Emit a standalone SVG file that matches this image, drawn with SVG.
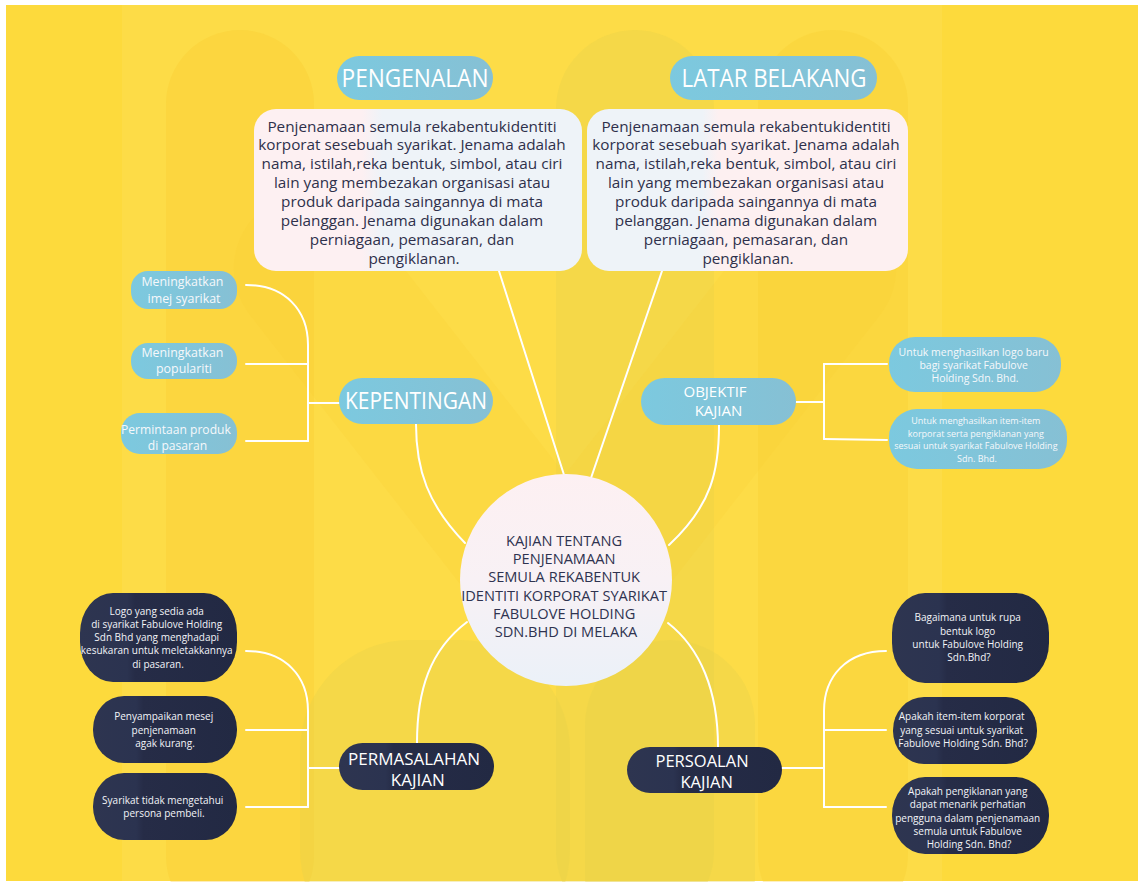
<svg xmlns="http://www.w3.org/2000/svg" width="1138" height="882" viewBox="0 0 1138 882">
  <defs>
    <style>
      .conn { fill: none; stroke: #FFFFFF; stroke-width: 2; stroke-linecap: round; }
      .title { font-family: "Open Sans", "Liberation Sans", sans-serif; fill: #FFFFFF; text-anchor: middle; }
      .body { font-family: "Open Sans", "Liberation Sans", sans-serif; fill: #2E304B; text-anchor: middle; font-size: 15.3px; }
      .core { font-family: "Open Sans", "Liberation Sans", sans-serif; fill: #2F3350; text-anchor: middle; font-size: 14.6px; }
      .leaf { font-family: "Open Sans", "Liberation Sans", sans-serif; fill: #F6F8FB; text-anchor: middle; }
      .dark { font-family: "Open Sans", "Liberation Sans", sans-serif; fill: #F3F4F8; text-anchor: middle; font-size: 10px; }
      .bluepill { fill: url(#blueGrad); }
      .navypill { fill: url(#navyGrad); }
    </style>
    <linearGradient id="blueGrad" x1="0" y1="0" x2="1" y2="0">
      <stop offset="0" stop-color="#7CC9DF"/>
      <stop offset="1" stop-color="#86C0D4"/>
    </linearGradient>
    <linearGradient id="navyGrad" x1="0" y1="0" x2="1" y2="0">
      <stop offset="0" stop-color="#2E3550"/>
      <stop offset="0.3" stop-color="#2B3350"/>
      <stop offset="0.35" stop-color="#262C47"/>
      <stop offset="1" stop-color="#222943"/>
    </linearGradient>
    <linearGradient id="boxLeft" x1="0" y1="0" x2="1" y2="0">
      <stop offset="0" stop-color="#FDF0F2"/>
      <stop offset="0.33" stop-color="#FDF0F2"/>
      <stop offset="0.39" stop-color="#EEF3F8"/>
      <stop offset="1" stop-color="#EEF3F8"/>
    </linearGradient>
    <linearGradient id="boxRight" x1="0" y1="0" x2="1" y2="0">
      <stop offset="0" stop-color="#EEF3F8"/>
      <stop offset="0.36" stop-color="#EEF3F8"/>
      <stop offset="0.41" stop-color="#FDF0F1"/>
      <stop offset="1" stop-color="#FDF0F1"/>
    </linearGradient>
    <linearGradient id="coreGrad" x1="0" y1="0" x2="0" y2="1">
      <stop offset="0" stop-color="#FDF0F2"/>
      <stop offset="0.5" stop-color="#F8F1F5"/>
      <stop offset="1" stop-color="#EBF1F8"/>
    </linearGradient>
  </defs>

  <!-- backdrop -->
  <rect x="0" y="0" width="1138" height="882" fill="#FFFFFF"/>
  <g id="backdrop">
    <rect x="6" y="5" width="1132" height="876" fill="#FDDA3C"/>
    <rect x="122" y="5" width="820" height="876" fill="#FFFFFF" opacity="0.06"/>
    <rect x="166" y="30" width="148" height="900" rx="74" fill="#F9CC30" opacity="0.35"/>
    <rect x="556" y="30" width="158" height="900" rx="79" fill="#E6D24A" opacity="0.35"/>
    <rect x="758" y="30" width="150" height="900" rx="75" fill="#F9CC30" opacity="0.3"/>
    <rect x="360" y="150" width="150" height="560" rx="75" fill="#F9CC30" opacity="0.2" transform="rotate(-38 435 430)"/>
    <rect x="620" y="150" width="150" height="560" rx="75" fill="#F9CC30" opacity="0.18" transform="rotate(38 695 430)"/>
    <rect x="300" y="640" width="270" height="320" rx="110" fill="#E6D24A" opacity="0.35"/>
    <rect x="585" y="640" width="170" height="320" rx="85" fill="#E6D24A" opacity="0.35"/>
  </g>

  <!-- connectors -->
  <g id="connectors">
    <path class="conn" d="M499,271 L565,478"/>
    <path class="conn" d="M662,271 L591,478"/>
    <path class="conn" d="M416,424 C416,470 428,505 465,543"/>
    <path class="conn" d="M719,425 C719,470 712,505 669,545"/>
    <path class="conn" d="M467,622 C430,650 417,690 417,743"/>
    <path class="conn" d="M668,623 C700,648 718,690 718,747"/>
    <!-- kepentingan branch -->
    <path class="conn" d="M246,285 C285,285 308,310 308,345 L308,441"/>
    <path class="conn" d="M246,364 L308,364"/>
    <path class="conn" d="M246,441 L308,441"/>
    <path class="conn" d="M308,403 L339,403"/>
    <!-- objektif branch -->
    <path class="conn" d="M796,402 L824,402"/>
    <path class="conn" d="M824,364 L824,439"/>
    <path class="conn" d="M824,364 L887,364"/>
    <path class="conn" d="M824,439 L887,440"/>
    <!-- permasalahan branch -->
    <path class="conn" d="M246,651 C285,651 308,676 308,711 L308,807"/>
    <path class="conn" d="M246,730 L308,730"/>
    <path class="conn" d="M246,807 L308,807"/>
    <path class="conn" d="M308,768 L339,768"/>
    <!-- persoalan branch -->
    <path class="conn" d="M782,768 L824,768"/>
    <path class="conn" d="M886,651 C847,651 824,676 824,711 L824,807"/>
    <path class="conn" d="M824,730 L886,730"/>
    <path class="conn" d="M824,807 L886,807"/>
  </g>

  <!-- PENGENALAN -->
  <g id="pengenalan">
    <rect class="bluepill" x="337" y="56" width="156" height="44" rx="22"/>
    <text class="title" x="415" y="87" font-size="25" textLength="147" lengthAdjust="spacingAndGlyphs">PENGENALAN</text>
    <rect x="254" y="109" width="328" height="162" rx="22" fill="url(#boxLeft)"/>
    <text class="body" x="414" y="131.5">
      <tspan x="414">Penjenamaan semula rekabentukidentiti</tspan>
      <tspan x="414" dy="18.86">korporat sesebuah syarikat. Jenama adalah</tspan>
      <tspan x="414" dy="18.86">nama, istilah,reka bentuk, simbol, atau ciri</tspan>
      <tspan x="414" dy="18.86">lain yang membezakan organisasi atau</tspan>
      <tspan x="414" dy="18.86">produk daripada saingannya di mata</tspan>
      <tspan x="414" dy="18.86">pelanggan. Jenama digunakan dalam</tspan>
      <tspan x="414" dy="18.86">perniagaan, pemasaran, dan</tspan>
      <tspan x="414" dy="18.86">pengiklanan.</tspan>
    </text>
  </g>

  <!-- LATAR BELAKANG -->
  <g id="latar-belakang">
    <rect class="bluepill" x="670" y="56" width="207" height="44" rx="22"/>
    <text class="title" x="774" y="87" font-size="25" textLength="185" lengthAdjust="spacingAndGlyphs">LATAR BELAKANG</text>
    <rect x="587" y="109" width="321" height="162" rx="22" fill="url(#boxRight)"/>
    <text class="body" x="748" y="131.5">
      <tspan x="748">Penjenamaan semula rekabentukidentiti</tspan>
      <tspan x="748" dy="18.86">korporat sesebuah syarikat. Jenama adalah</tspan>
      <tspan x="748" dy="18.86">nama, istilah,reka bentuk, simbol, atau ciri</tspan>
      <tspan x="748" dy="18.86">lain yang membezakan organisasi atau</tspan>
      <tspan x="748" dy="18.86">produk daripada saingannya di mata</tspan>
      <tspan x="748" dy="18.86">pelanggan. Jenama digunakan dalam</tspan>
      <tspan x="748" dy="18.86">perniagaan, pemasaran, dan</tspan>
      <tspan x="748" dy="18.86">pengiklanan.</tspan>
    </text>
  </g>

  <!-- KEPENTINGAN -->
  <g id="kepentingan">
    <rect class="bluepill" x="339" y="378" width="154" height="46" rx="23"/>
    <text class="title" x="416" y="408.5" font-size="24" textLength="142" lengthAdjust="spacingAndGlyphs">KEPENTINGAN</text>
  </g>
  <g id="imej-syarikat">
    <rect class="bluepill" x="131" y="271" width="106" height="38" rx="17"/>
    <text class="leaf" x="184" y="286.2" font-size="12.4">
      <tspan x="184">Meningkatkan</tspan>
      <tspan x="184" dy="16.6">imej syarikat</tspan>
    </text>
  </g>
  <g id="populariti">
    <rect class="bluepill" x="131" y="343" width="106" height="36" rx="17"/>
    <text class="leaf" x="184" y="356.8" font-size="12.4">
      <tspan x="184">Meningkatkan</tspan>
      <tspan x="184" dy="16">populariti</tspan>
    </text>
  </g>
  <g id="permintaan-produk">
    <rect class="bluepill" x="121" y="413" width="116" height="41" rx="19"/>
    <text class="leaf" x="177.5" y="433.8" font-size="12.1">
      <tspan x="177.5">Permintaan produk</tspan>
      <tspan x="177.5" dy="15.7">di pasaran</tspan>
    </text>
  </g>

  <!-- OBJEKTIF KAJIAN -->
  <g id="objektif-kajian">
    <rect class="bluepill" x="641" y="378" width="155" height="47" rx="23.5"/>
    <text class="title" x="717" y="396.5" font-size="15">
      <tspan x="717">OBJEKTIF</tspan>
      <tspan x="718.5" dy="19.5">KAJIAN</tspan>
    </text>
  </g>
  <g id="logo-baru">
    <rect class="bluepill" x="889" y="337" width="172" height="55" rx="26"/>
    <text class="leaf" x="975" y="355.5" font-size="10.5">
      <tspan x="975">Untuk menghasilkan logo baru</tspan>
      <tspan x="975" dy="13.3">bagi syarikat Fabulove</tspan>
      <tspan x="975" dy="13.3">Holding Sdn. Bhd.</tspan>
    </text>
  </g>
  <g id="item-korporat">
    <rect class="bluepill" x="889" y="409" width="178" height="60" rx="28"/>
    <text class="leaf" x="977" y="424" font-size="9">
      <tspan x="977">Untuk menghasilkan item-item</tspan>
      <tspan x="977" dy="12.5">korporat serta pengiklanan yang</tspan>
      <tspan x="977" dy="12.5">sesuai untuk syarikat Fabulove Holding</tspan>
      <tspan x="977" dy="12.5">Sdn. Bhd.</tspan>
    </text>
  </g>

  <!-- central topic -->
  <g id="kajian-tentang">
    <circle cx="566" cy="580" r="106" fill="url(#coreGrad)"/>
    <text class="core" x="566" y="546.2">
      <tspan x="566">KAJIAN TENTANG</tspan>
      <tspan x="566" dy="18.1">PENJENAMAAN</tspan>
      <tspan x="566" dy="18.1">SEMULA REKABENTUK</tspan>
      <tspan x="566" dy="18.1">IDENTITI KORPORAT SYARIKAT</tspan>
      <tspan x="566" dy="18.1">FABULOVE HOLDING</tspan>
      <tspan x="566" dy="18.1">SDN.BHD DI MELAKA</tspan>
    </text>
  </g>

  <!-- PERMASALAHAN KAJIAN -->
  <g id="permasalahan-kajian">
    <rect class="navypill" x="339" y="743" width="155" height="47" rx="23.5"/>
    <text class="title" x="416.2" y="764.5" font-size="17">
      <tspan x="416.2">PERMASALAHAN</tspan>
      <tspan x="417.8" dy="21">KAJIAN</tspan>
    </text>
  </g>
  <g id="logo-sedia-ada">
    <rect class="navypill" x="80" y="593" width="157" height="89" rx="33" ry="40"/>
    <text class="dark" x="158" y="614.6">
      <tspan x="158">Logo yang sedia ada</tspan>
      <tspan x="158" dy="13.25">di syarikat Fabulove Holding</tspan>
      <tspan x="158" dy="13.25">Sdn Bhd yang menghadapi</tspan>
      <tspan x="158" dy="13.25">kesukaran untuk meletakkannya</tspan>
      <tspan x="158" dy="13.25">di pasaran.</tspan>
    </text>
  </g>
  <g id="mesej-penjenamaan">
    <rect class="navypill" x="93" y="696" width="144" height="67" rx="31" ry="33"/>
    <text class="dark" x="165" y="720.3">
      <tspan x="165">Penyampaikan mesej</tspan>
      <tspan x="165" dy="13.3">penjenamaan</tspan>
      <tspan x="165" dy="13.3">agak kurang.</tspan>
    </text>
  </g>
  <g id="persona-pembeli">
    <rect class="navypill" x="93" y="773" width="144" height="67" rx="31" ry="33"/>
    <text class="dark" x="164" y="803.6">
      <tspan x="164">Syarikat tidak mengetahui</tspan>
      <tspan x="164" dy="13.3">persona pembeli.</tspan>
    </text>
  </g>

  <!-- PERSOALAN KAJIAN -->
  <g id="persoalan-kajian">
    <rect class="navypill" x="627" y="747" width="155" height="46" rx="23"/>
    <text class="title" x="704.2" y="767" font-size="16.5">
      <tspan x="704.2">PERSOALAN</tspan>
      <tspan x="706.7" dy="21">KAJIAN</tspan>
    </text>
  </g>
  <g id="rupa-bentuk-logo">
    <rect class="navypill" x="892" y="593" width="157" height="90" rx="33" ry="40"/>
    <text class="dark" x="969" y="621.3">
      <tspan x="969">Bagaimana untuk rupa</tspan>
      <tspan x="969" dy="13.2">bentuk logo</tspan>
      <tspan x="969" dy="13.2">untuk Fabulove Holding</tspan>
      <tspan x="969" dy="13.2">Sdn.Bhd?</tspan>
    </text>
  </g>
  <g id="item-item-korporat">
    <rect class="navypill" x="893" y="697" width="144" height="67" rx="31" ry="33"/>
    <text class="dark" x="963" y="720.3">
      <tspan x="963">Apakah item-item korporat</tspan>
      <tspan x="963" dy="13.3">yang sesuai untuk syarikat</tspan>
      <tspan x="963" dy="13.3">Fabulove Holding Sdn. Bhd?</tspan>
    </text>
  </g>
  <g id="pengiklanan-menarik">
    <rect class="navypill" x="892" y="777" width="157" height="77" rx="33" ry="38"/>
    <text class="dark" x="969" y="795.3">
      <tspan x="969">Apakah pengiklanan yang</tspan>
      <tspan x="969" dy="13.1">dapat menarik perhatian</tspan>
      <tspan x="969" dy="13.1">pengguna dalam penjenamaan</tspan>
      <tspan x="969" dy="13.1">semula untuk Fabulove</tspan>
      <tspan x="969" dy="13.1">Holding Sdn. Bhd?</tspan>
    </text>
  </g>
</svg>
